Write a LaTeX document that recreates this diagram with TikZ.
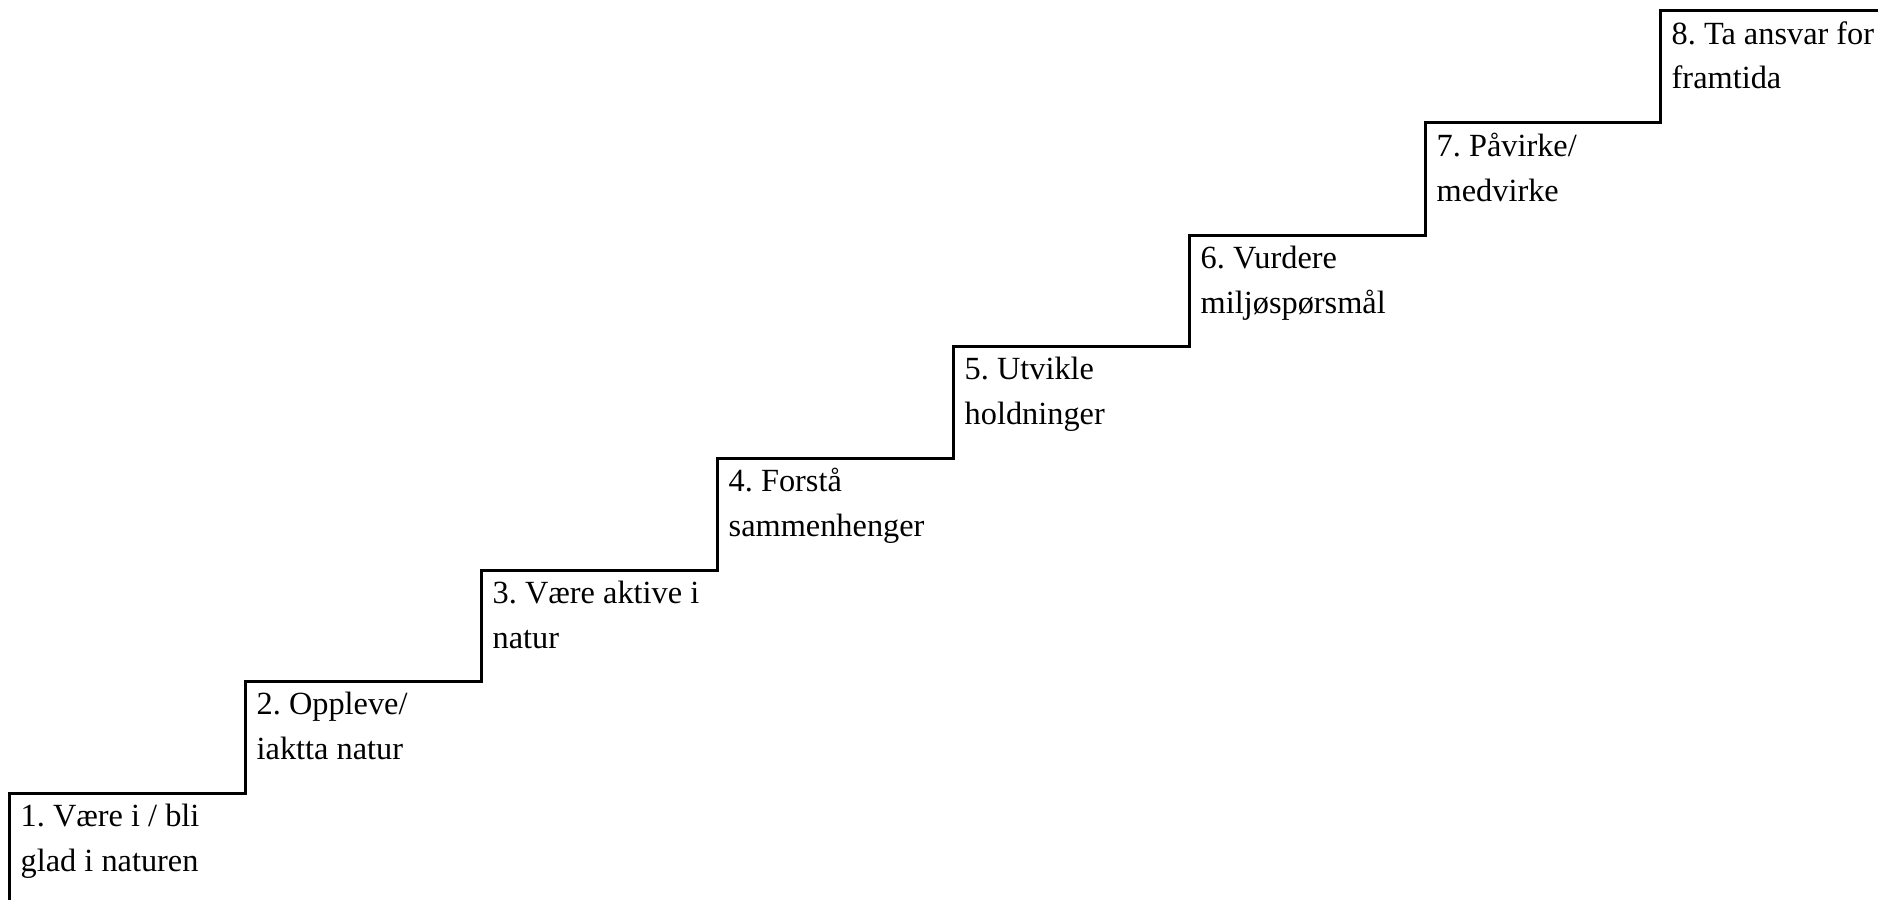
\documentclass[tikz,border=0pt]{standalone}
\usepackage{fontspec}
\setmainfont{Liberation Serif}
\frenchspacing

\begin{document}
\begin{tikzpicture}[x=0.1mm, y=-0.1mm]

\tikzset{stairline/.style={line width=0.3mm, line join=miter}}
\tikzset{steptext/.style={anchor=base west, inner sep=0, align=left, font=\fontsize{9.2pt}{12.8pt}\selectfont}}

\useasboundingbox (0,0) rectangle (1878,900);

\draw[stairline] (9,900) -- (9,793) -- (245,793) -- (245,681) -- (481,681) -- (481,570)
  -- (717,570) -- (717,458) -- (953,458) -- (953,346) -- (1189,346) -- (1189,235)
  -- (1425,235) -- (1425,123) -- (1660,123) -- (1660,11) -- (1890,11);

\node[steptext] (s1) at (20,871) {1. Være i / bli\\glad i naturen};
\node[steptext] (s2) at (256,759) {2. Oppleve/\\iaktta natur};
\node[steptext] (s3) at (492,648) {3. Være aktive i\\natur};
\node[steptext] (s4) at (728,536) {4. Forstå\\sammenhenger};
\node[steptext] (s5) at (964,424) {5. Utvikle\\holdninger};
\node[steptext] (s6) at (1200,313) {6. Vurdere\\miljøspørsmål};
\node[steptext] (s7) at (1436,201) {7. Påvirke/\\medvirke};
\node[steptext] (s8) at (1671,89) {8. Ta ansvar for\\framtida};

\end{tikzpicture}
\end{document}
